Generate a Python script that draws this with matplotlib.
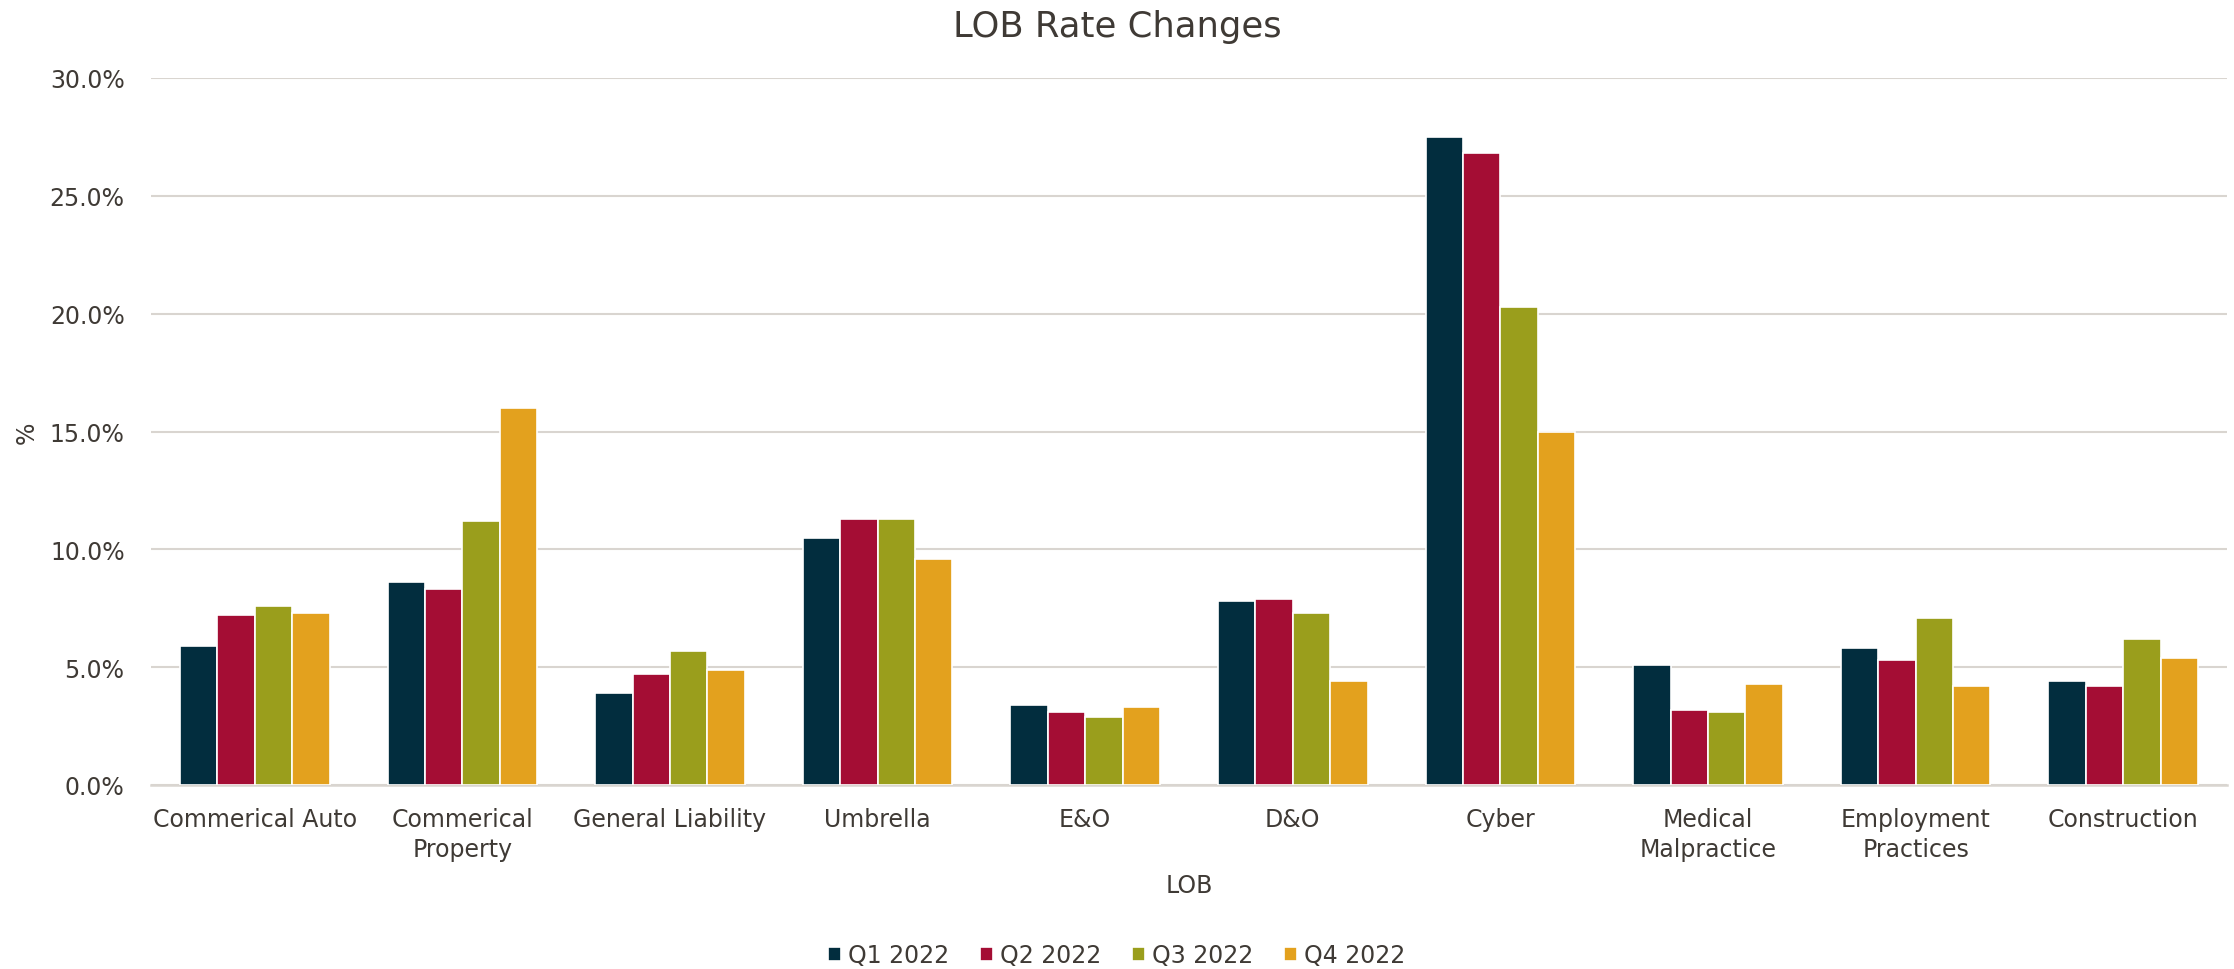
import matplotlib
matplotlib.use("Agg")
from matplotlib import pyplot as plt
import numpy as np

# Data (rate change, %)
categories = ["Commerical Auto", "Commerical\nProperty", "General Liability",
              "Umbrella", "E&O", "D&O", "Cyber", "Medical\nMalpractice",
              "Employment\nPractices", "Construction"]
series_names = ["Q1 2022", "Q2 2022", "Q3 2022", "Q4 2022"]
q1_2022 = [5.9, 8.6, 3.9, 10.5, 3.4, 7.8, 27.5, 5.1, 5.8, 4.4]
q2_2022 = [7.2, 8.3, 4.7, 11.3, 3.1, 7.9, 26.8, 3.2, 5.3, 4.2]
q3_2022 = [7.6, 11.2, 5.7, 11.3, 2.9, 7.3, 20.3, 3.1, 7.1, 6.2]
q4_2022 = [7.3, 16.0, 4.9, 9.6, 3.3, 4.4, 15.0, 4.3, 4.2, 5.4]
yticks = [0, 5, 10, 15, 20, 25, 30]

colors = ["#022d3e", "#a40d34", "#9a9e1c", "#e3a11e"]
text_color = "#3f3a35"
grid_color = "#d9d5d0"

plt.rcParams['font.family'] = ['DejaVu Sans']

fig = plt.figure(figsize=(22.34, 9.7), dpi=100)
ax = fig.add_axes([151 / 2234, 1 - 786 / 970, 2076 / 2234, 707 / 970])

x = np.arange(len(categories))
width = 0.18
all_series = [q1_2022, q2_2022, q3_2022, q4_2022]
for i, (vals, name) in enumerate(zip(all_series, series_names)):
    ax.bar(x + (i - 1.5) * width, vals, width, color=colors[i], label=name,
           edgecolor="white", linewidth=1.2, zorder=3)

ax.set_xlim(-0.5, len(categories) - 0.5)
ax.set_ylim(0, 30)
ax.set_yticks(yticks)
ax.set_yticklabels([f"{v:.1f}%" for v in yticks])
ax.set_xticks(x)
ax.set_xticklabels(categories, linespacing=1.3)

ax.tick_params(axis='both', length=0, labelsize=17, colors=text_color)
ax.tick_params(axis='y', pad=19)
ax.tick_params(axis='x', pad=16)

ax.grid(axis='y', color=grid_color, linewidth=1.5, zorder=0)
for side in ['top', 'right', 'left']:
    ax.spines[side].set_visible(False)
ax.spines['bottom'].set_color(grid_color)
ax.spines['bottom'].set_linewidth(1.8)

ax.set_xlabel("LOB", fontsize=17, color=text_color, labelpad=9)
ax.set_ylabel("%", fontsize=17, color=text_color, labelpad=8)

fig.text(0.5, 1 - 27 / 970, "LOB Rate Changes", fontsize=25.5,
         color=text_color, ha='center', va='center')

fig.legend(loc='center', bbox_to_anchor=(0.5, 1 - 956 / 970), ncol=4,
           frameon=False, fontsize=17, handlelength=0.55, handleheight=0.55,
           handletextpad=0.3, columnspacing=1.3, labelcolor=text_color)

fig.savefig("out.png", dpi=100)
